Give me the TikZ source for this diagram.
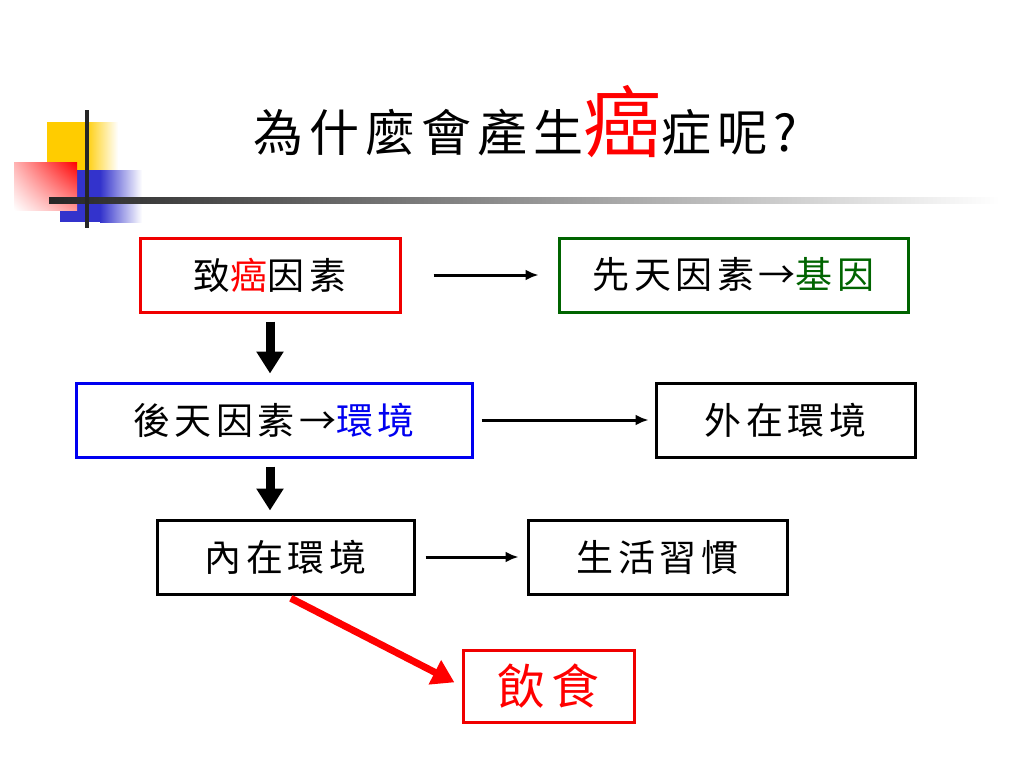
\documentclass[tikz,border=0pt]{standalone}
\usepackage{fontspec}
\usetikzlibrary{arrows.meta,shadings}
\newfontfamily\cjk[LetterSpace=12]{Noto Sans CJK TC}
\definecolor{boxred}{RGB}{240,0,0}
\definecolor{boxgreen}{RGB}{0,100,0}
\definecolor{boxblue}{RGB}{0,0,240}
\definecolor{deco yellow}{RGB}{255,204,0}
\definecolor{deco blue}{RGB}{51,51,204}

\tikzstyle{factor}=[draw,line width=3pt,minimum height=74pt,inner sep=0pt,font=\cjk\fontsize{37}{37}\selectfont]
\tikzstyle{thin arrow}=[-{Latex[length=13pt,width=11pt]},line width=3pt]
\tikzstyle{fat arrow}=[-{Triangle[width=26pt,length=22pt]},line width=9pt]

\begin{document}
\begin{tikzpicture}[x=1pt,y=-1pt]
  \useasboundingbox[fill=white] (0,0) rectangle (1024,768);
  % corner decoration
  \fill[deco yellow] (47,122) rectangle (85,170);
  \shade[left color=deco yellow,right color=white] (85,122) rectangle (118,170);
  \fill[deco blue] (60,170) rectangle (100,222);
  \shade[left color=deco blue,right color=white] (100,170) rectangle (142,222);
  \shade[upper right=red,upper left=red!30,lower right=red!40,lower left=white] (14,162) rectangle (77,210);
  \shade[left color=black!85,right color=white] (49,197) rectangle (1000,203);
  \fill[black!85] (85,110) rectangle (89,228);
  % title
  \node (title) [anchor=west,font=\cjk\fontsize{50}{50}\selectfont] at (250,122)
    {為什麼會產生{\fontsize{78}{78}\selectfont\color{red}癌}症呢?};
  % boxes
  \node (cause) [factor,draw=boxred,minimum width=260pt] at (270,275) {致{\color{red}癌}因素};
  \node (innate) [factor,draw=boxgreen,minimum width=349pt] at (733.5,275) {先天因素→{\color{boxgreen}基因}};
  \node (acquired) [factor,draw=boxblue,minimum width=396pt] at (274,420) {後天因素→{\color{boxblue}環境}};
  \node (external) [factor,minimum width=259pt] at (785.5,420) {外在環境};
  \node (internal) [factor,minimum width=257pt] at (285.5,557) {內在環境};
  \node (lifestyle) [factor,minimum width=259pt] at (657.5,557) {生活習慣};
  \node (diet) [factor,draw=boxred,text=red,minimum width=171pt,minimum height=72pt,font=\cjk\fontsize{48}{48}\selectfont] at (548.5,686) {飲食};
  % connectors
  \draw[thin arrow,shorten <=32pt,shorten >=19pt] (cause.east) -- (innate.west);
  \draw[thin arrow,shorten <=8pt,shorten >=6pt] (acquired.east) -- (external.west);
  \draw[thin arrow,shorten <=10pt,shorten >=8pt] (internal.east) -- (lifestyle.west);
  \draw[fat arrow,shorten <=8pt,shorten >=8pt] (cause.south) -- (cause.south |- acquired.north);
  \draw[fat arrow,shorten <=8pt,shorten >=8pt] (cause.south |- acquired.south) -- (cause.south |- internal.north);
  \draw[fat arrow,red,line width=7pt,shorten <=6pt,shorten >=8pt] (internal.south) -- (diet.west);
\end{tikzpicture}
\end{document}
